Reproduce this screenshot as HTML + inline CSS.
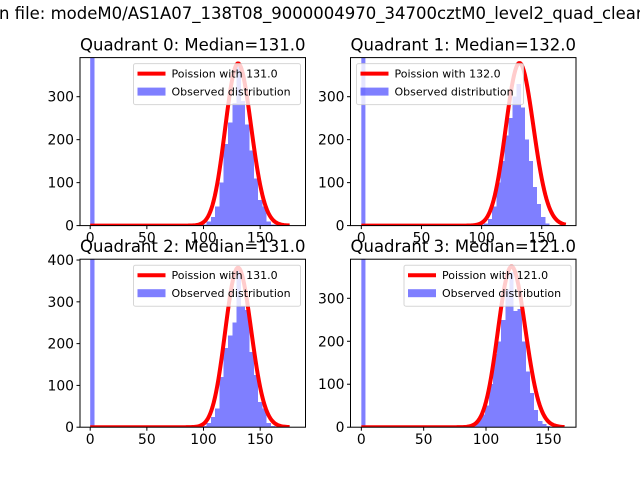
<!DOCTYPE html>
<html><head><meta charset="utf-8"><style>
html,body{margin:0;padding:0;background:#fff;}
svg{display:block;font-family:"DejaVu Sans","Liberation Sans",sans-serif;}
</style></head><body>
<svg id="fig" width="640" height="480" viewBox="0 0 640 480">
<rect width="640" height="480" fill="#fff"/>
<text x="318" y="19" text-anchor="middle" font-size="16.5">Plot in file: modeM0/AS1A07_138T08_9000004970_34700cztM0_level2_quad_clean.evt</text>
</svg>
<script>
// ---- data ----
const quadrantNames = ["Quadrant 0", "Quadrant 1", "Quadrant 2", "Quadrant 3"];
const medians = [131.0, 132.0, 131.0, 121.0];
const zeroBinCounts = [1500, 1500, 1500, 1500];
const binWidths = [3.8, 3.4, 3.8, 3.3];
const binStartIndex = [26, 29, 26, 22];
const counts0 = [3,10,20,45,100,190,240,285,370,290,235,175,110,60,45,10,3];
const counts1 = [2,5,15,45,100,150,210,250,300,330,275,200,150,90,50,20,5];
const counts2 = [3,10,25,45,120,190,220,250,380,290,280,180,125,60,45,10,3];
const counts3 = [3,3,0,2,5,8,15,30,50,100,170,200,250,320,360,270,275,200,130,80,40,15,8,3];
const poissonScale = [10830, 10900, 10950, 10310];
const curveEnd = [176, 170, 176, 163];
const xTicks = [0, 50, 100, 150];
const yTicks0 = [0, 100, 200, 300];
const yTicks1 = [0, 100, 200, 300];
const yTicks2 = [0, 100, 200, 300, 400];
const yTicks3 = [0, 100, 200, 300];

// ---- layout ----
const allCounts = [counts0, counts1, counts2, counts3];
const allYTicks = [yTicks0, yTicks1, yTicks2, yTicks3];
const axBoxes = [[80,57.6],[350.5,57.6],[80,259.2],[350.5,259.2]];
const axW = 225.5, axH = 168;
const xLims = [[-9,190],[-9,178.5],[-9,190],[-8.7,172.2]];
const yLims = [[0,391],[0,391],[0,402],[0,391]];
const legendLoc = ["right","left","right","right"];
const NS = "http://www.w3.org/2000/svg";
const svg = document.getElementById("fig");
function mk(tag, attrs, parent){const e=document.createElementNS(NS,tag);for(const k in attrs)e.setAttribute(k,attrs[k]);(parent||svg).appendChild(e);return e;}
function logPois(k, lam){let lf=0;for(let i=2;i<=k;i++)lf+=Math.log(i);return k*Math.log(lam)-lam-lf;}

for(let q=0;q<4;q++){
  const [ax,ay]=axBoxes[q];
  const [x0,x1]=xLims[q],[y0,y1]=yLims[q];
  const X=v=>ax+(v-x0)/(x1-x0)*axW;
  const Y=v=>ay+axH-(v-y0)/(y1-y0)*axH;
  const g=mk("g",{});
  
  
  const cid="clip"+q;
  const cp=mk("clipPath",{id:cid},g); mk("rect",{x:ax,y:ay,width:axW,height:axH},cp);
  const plot=mk("g",{"clip-path":"url(#"+cid+")"},g);
  const w=binWidths[q];
  const zb=mk("rect",{x:X(0),y:Y(zeroBinCounts[q]),width:X(w)-X(0),height:Y(0)-Y(zeroBinCounts[q]),fill:"#0000ff","fill-opacity":0.5},plot);
  
  
  const cs=allCounts[q];
  const bars=mk("g",{"fill":"#0000ff","fill-opacity":0.5},plot);
  for(let i=0;i<cs.length;i++){
    const l=(binStartIndex[q]+i)*w;
    const b=mk("rect",{x:X(l),y:Y(cs[i]),width:X(l+w)-X(l),height:Y(0)-Y(cs[i]),"shape-rendering":"crispEdges"},bars);
    
    
  }
  let d="";
  for(let k=0;k<=curveEnd[q];k++){
    const v=poissonScale[q]*Math.exp(logPois(k,medians[q]));
    d+=(k?"L":"M")+X(k).toFixed(2)+","+Y(v).toFixed(2);
  }
  const ln=mk("path",{d:d,fill:"none",stroke:"#ff0000","stroke-width":4,"stroke-linejoin":"round"},plot);
  
  
  const fr=mk("rect",{x:ax,y:ay,width:axW,height:axH,fill:"none",stroke:"#000","stroke-width":1},g);
  
  
  xTicks.forEach(t=>{
    mk("line",{x1:X(t),x2:X(t),y1:ay+axH,y2:ay+axH+3.5,stroke:"#000"},g);
    const tx=mk("text",{x:X(t),y:ay+axH+17,"text-anchor":"middle","font-size":13.9},g);
    tx.textContent=t;
    
    
  });
  allYTicks[q].forEach(t=>{
    mk("line",{x1:ax-3.5,x2:ax,y1:Y(t),y2:Y(t),stroke:"#000"},g);
    const tx=mk("text",{x:ax-6,y:Y(t)+5,"text-anchor":"end","font-size":13.9},g);
    tx.textContent=t;
    
    
  });
  const ti=mk("text",{x:ax+axW/2,y:ay-7,"text-anchor":"middle","font-size":16.5},g);
  ti.textContent=quadrantNames[q]+": Median="+medians[q].toFixed(1);
  
  
  const lw=167, lh=41;
  const lx = legendLoc[q]==="right" ? ax+axW-lw-5 : ax+6;
  const ly = ay+6;
  const lg=mk("g",{},g);
  
  
  mk("rect",{x:lx,y:ly,width:lw,height:lh,rx:2,fill:"#fff","fill-opacity":0.8,stroke:"#ccc","stroke-opacity":0.8},lg);
  mk("line",{x1:lx+4,x2:lx+32,y1:ly+10,y2:ly+10,stroke:"#ff0000","stroke-width":4},lg);
  const t1=mk("text",{x:lx+38,y:ly+14,"font-size":11},lg);
  t1.textContent="Poission with "+medians[q].toFixed(1);
  
  
  mk("rect",{x:lx+4,y:ly+24,width:28,height:8,fill:"#0000ff","fill-opacity":0.5},lg);
  const t2=mk("text",{x:lx+38,y:ly+32,"font-size":11},lg);
  t2.textContent="Observed distribution";
  
  
}
</script>
</body></html>
